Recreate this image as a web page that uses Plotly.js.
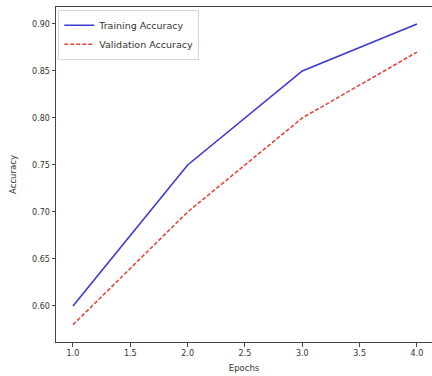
<!DOCTYPE html>
<html><head><meta charset="utf-8">
<script src="https://cdn.plot.ly/plotly-3.0.1.min.js"></script>
<style>html,body{margin:0;padding:0;background:#fff}#c{width:432px;height:376px}</style>
</head><body><div id="c"></div>
<script>
const epochs = [1, 2, 3, 4];
const trainingAccuracy = [0.60, 0.75, 0.85, 0.90];
const validationAccuracy = [0.58, 0.70, 0.80, 0.87];
const xTicks = [1.0, 1.5, 2.0, 2.5, 3.0, 3.5, 4.0];
const yTicks = [0.60, 0.65, 0.70, 0.75, 0.80, 0.85, 0.90];

const traces = [
  {x: epochs, y: trainingAccuracy, mode: 'lines', name: 'Training Accuracy',
   line: {color: '#3a3acf', width: 1.6}},
  {x: epochs, y: validationAccuracy, mode: 'lines', name: 'Validation Accuracy',
   line: {color: '#e0493f', width: 1.6, dash: '4px,2px'}}
];
const layout = {
  width: 432, height: 376,
  margin: {l: 56, r: 0, t: 7, b: 34},
  paper_bgcolor: '#fff', plot_bgcolor: '#fff',
  font: {family: 'DejaVu Sans', size: 8, color: '#333'},
  showlegend: true,
  legend: {x: 0.006, y: 0.992, xanchor: 'left', yanchor: 'top',
    bgcolor: 'rgba(255,255,255,0.8)', bordercolor: '#d6d6d6', borderwidth: 1,
    font: {size: 9.5, color: '#333'}, itemwidth: 30, tracegroupgap: 0},
  xaxis: {range: [0.852, 4.131], tickvals: xTicks, ticktext: xTicks.map(v => v.toFixed(1)),
    showgrid: false, zeroline: false, showline: true, linecolor: '#444', linewidth: 1, mirror: true,
    ticks: 'outside', ticklen: 3.5, tickcolor: '#444',
    title: {text: 'Epochs', font: {size: 8.5}, standoff: 7}},
  yaxis: {range: [0.5617, 0.918], tickvals: yTicks, ticktext: yTicks.map(v => v.toFixed(2)),
    showgrid: false, zeroline: false, showline: true, linecolor: '#444', linewidth: 1,
    ticks: 'outside', ticklen: 3.5, tickcolor: '#444',
    title: {text: 'Accuracy', font: {size: 8.5}, standoff: 14}}
};
Plotly.newPlot('c', traces, layout, {displayModeBar: false, staticPlot: true});
</script></body></html>
